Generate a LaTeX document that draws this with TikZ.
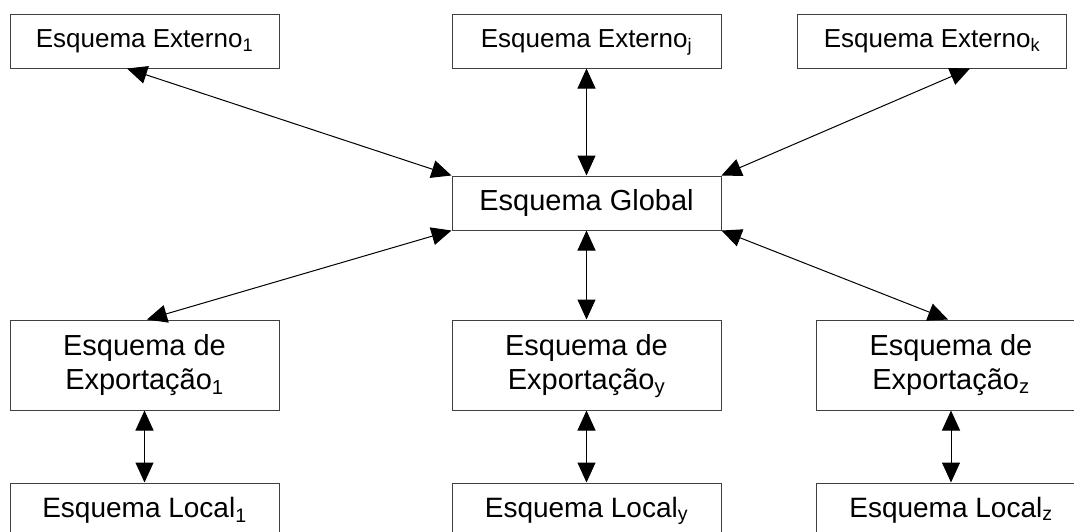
\documentclass[tikz,border=0pt]{standalone}
\usepackage{fontspec}
\setmainfont{Liberation Sans}
\usetikzlibrary{arrows.meta}

% index that does not change the height or depth of a line
\newcommand{\idx}[1]{\smash{\textsubscript{#1}}}

\begin{document}
\begin{tikzpicture}[x=1pt,y=-1pt,
  schema/.style={draw=black!75, line width=1pt, fill=white, inner sep=0pt,
    minimum width=269pt, align=center},
  extbox/.style={schema, minimum height=54pt, font=\fontsize{26}{31}\selectfont},
  globbox/.style={schema, minimum height=54pt, font=\fontsize{29}{34}\selectfont},
  expbox/.style={schema, minimum height=90pt, font=\fontsize{29}{34}\selectfont},
  locbox/.style={schema, minimum height=54pt, font=\fontsize{28}{33}\selectfont},
  link/.style={draw=black, line width=1pt,
    {Triangle[length=20pt,width=18pt]}-{Triangle[length=20pt,width=18pt]}}]
  \useasboundingbox (0,0) rectangle (1074,531);
  \clip (0,0) rectangle (1074,531);

  % external schemas
  \node[extbox] (e1) at (144.5,41) {Esquema Externo\idx{1}};
  \node[extbox] (ej) at (586.5,41) {Esquema Externo\idx{j}};
  \node[extbox] (ek) at (932,41)   {Esquema Externo\idx{k}};

  % global schema
  \node[globbox] (g) at (586.5,203) {Esquema Global};

  % export schemas
  \node[expbox] (x1) at (144.5,365) {Esquema de\\Exportação\idx{1}};
  \node[expbox] (xy) at (586.5,365) {Esquema de\\Exportação\idx{y}};
  \node[expbox] (xz) at (951,365)   {Esquema de\\Exportação\idx{z}};

  % local schemas
  \node[locbox] (l1) at (144.5,510) {Esquema Local\idx{1}};
  \node[locbox] (ly) at (586.5,510) {Esquema Local\idx{y}};
  \node[locbox] (lz) at (951,510)   {Esquema Local\idx{z}};

  % mappings between levels
  \draw[link] ([xshift=-17.5pt]e1.south) -- (g.north west);
  \draw[link] (ej.south) -- (g.north);
  \draw[link] ([xshift=38pt]ek.south) -- (g.north east);

  \draw[link] (g.south west) -- ([xshift=2.5pt]x1.north);
  \draw[link] (g.south) -- (xy.north);
  \draw[link] (g.south east) -- ([xshift=-3pt]xz.north);

  \draw[link] (x1.south) -- (l1.north);
  \draw[link] (xy.south) -- (ly.north);
  \draw[link] (xz.south) -- (lz.north);
\end{tikzpicture}
\end{document}
